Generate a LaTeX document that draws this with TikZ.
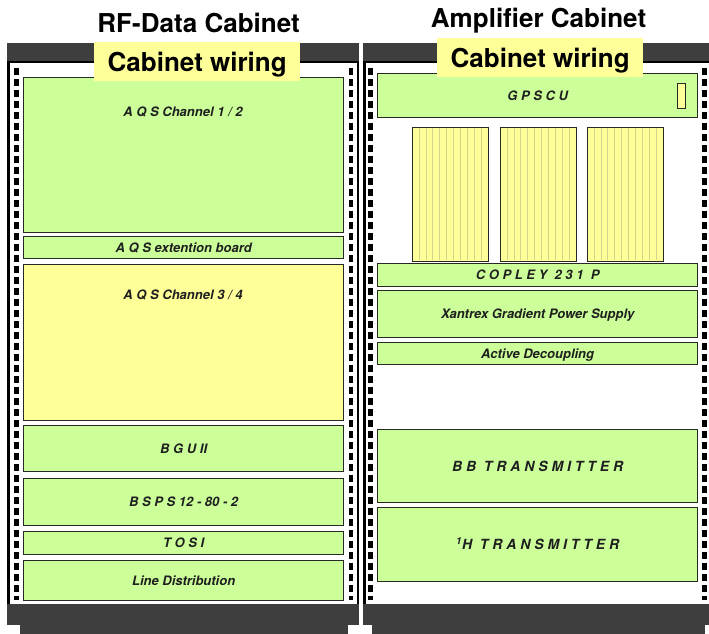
\documentclass[tikz,border=0pt]{standalone}
\usepackage{fontspec}
\setmainfont{TeX Gyre Heros}
\definecolor{cgreen}{RGB}{204,255,153}
\definecolor{cyellow}{RGB}{255,255,153}
\definecolor{cdark}{RGB}{62,62,62}
\definecolor{cstripe}{RGB}{212,212,140}
\definecolor{cedge}{RGB}{38,42,34}
\newcommand{\lblfont}{\fontsize{13}{15}\selectfont\bfseries\itshape}
\newcommand{\bigfont}{\fontsize{14}{16}\selectfont\bfseries\itshape}
\begin{document}
\begin{tikzpicture}[x=1pt,y=-1pt,
  panel/.style={draw=cedge, line width=1.3pt, fill=cgreen, rectangle, inner sep=0pt,
    anchor=north west, font=\lblfont, text=black!88, text height=9.4pt, text depth=0pt},
  ypanel/.style={panel, fill=cyellow},
  bigpanel/.style={panel, font=\bigfont, text height=10pt},
  lbl/.style={font=\lblfont, text=black!88, inner sep=0pt, text height=9.4pt, text depth=0pt},
  titlenode/.style={font=\fontsize{26}{30}\selectfont\bfseries, anchor=base, inner sep=0pt},
  wiring/.style={fill=cyellow, font=\fontsize{26}{30}\selectfont\bfseries, anchor=north west,
    minimum width=206pt, minimum height=39pt, inner sep=0pt, text height=18.7pt, text depth=0pt},
  rail/.style={line width=4.5pt, dash pattern=on 7pt off 4pt, draw=black},
  frame/.style={draw=black, line width=2.5pt, fill=white},
  stripe/.style={draw=cstripe, line width=0.6pt}
]
\useasboundingbox (0,0) rectangle (709,634);
\clip (0,0) rectangle (709,634);
\fill[white] (0,0) rectangle (709,634);

% top bands
\fill[cdark] (7,43) rectangle (359,63);
\fill[cdark] (363,43) rectangle (715,63);
% frames
\draw[frame] (8.25,62.25) rectangle (357.75,606);
\draw[frame] (364.25,62.25) rectangle (716,606);
% bases
\fill[cdark] (7,604) rectangle (359,625);
\fill[cdark] (20,625) rectangle (348,634);
\fill[cdark] (363,604) rectangle (715,625);
\fill[cdark] (372,625) rectangle (705,634);
% rails
\draw[rail] (16.5,68) -- (16.5,600);
\draw[rail] (351,68) -- (351,600);
\draw[rail] (370.5,68) -- (370.5,600);
\draw[rail] (704.5,68) -- (704.5,600);

% left cabinet
\node[panel, minimum width=320pt, minimum height=155pt] (aqs12) at (23,77) {};
\node[lbl] (aqs12t) at (183,112) {A Q S Channel 1 / 2};
\node[panel, minimum width=320pt, minimum height=22pt] (aqsext) at (23,236) {A Q S extention board};
\node[ypanel, minimum width=320pt, minimum height=156pt] (aqs34) at (23,264) {};
\node[lbl] (aqs34t) at (183,295) {A Q S Channel 3 / 4};
\node[panel, minimum width=320pt, minimum height=46pt] (bgu) at (23,425) {B G U II};
\node[panel, minimum width=320pt, minimum height=47pt] (bsps) at (23,478) {B S P S 12 - 80 - 2};
\node[panel, minimum width=320pt, minimum height=23pt] (tosi) at (23,531) {T O S I};
\node[panel, minimum width=320pt, minimum height=40pt] (line) at (23,560) {Line Distribution};

% right cabinet
\node[panel, minimum width=320pt, minimum height=44pt] (gpscu) at (377,73) {G P S C U};
\node[ypanel, minimum width=8pt, minimum height=25pt] (gled) at (677,83) {};
\foreach \px/\nm in {412/ya,500/yb,587/yc}{
  \fill[cyellow] (\px,127) rectangle ++(76,134);
  \foreach \k in {1,...,10}{ \draw[stripe] (\px+\k*6.9,128) -- ++(0,132); }
  \node[draw=cedge, line width=1.3pt, rectangle, inner sep=0pt, anchor=north west,
        minimum width=76pt, minimum height=134pt] (\nm) at (\px,127) {};
}
\node[panel, minimum width=320pt, minimum height=23pt] (copley) at (377,263) {C O P L E Y \ 2 3 1 \ P};
\node[panel, minimum width=320pt, minimum height=47pt] (xantrex) at (377,290) {Xantrex Gradient Power Supply};
\node[panel, minimum width=320pt, minimum height=22pt] (actdec) at (377,342) {Active Decoupling};
\node[bigpanel, minimum width=320pt, minimum height=73pt] (bbtx) at (377,429) {B B \ T R A N S M I T T E R};
\node[bigpanel, minimum width=320pt, minimum height=74pt] (htx) at (377,507) {\textsuperscript{1}H \ T R A N S M I T T E R};

% labels
\node[wiring] (wirL) at (94,42) {Cabinet wiring};
\node[wiring] (wirR) at (437,38) {Cabinet wiring};
\node[titlenode] (titL) at (198.5,33) {RF-Data Cabinet};
\node[titlenode] (titR) at (538.5,28) {Amplifier Cabinet};
\end{tikzpicture}
\end{document}
